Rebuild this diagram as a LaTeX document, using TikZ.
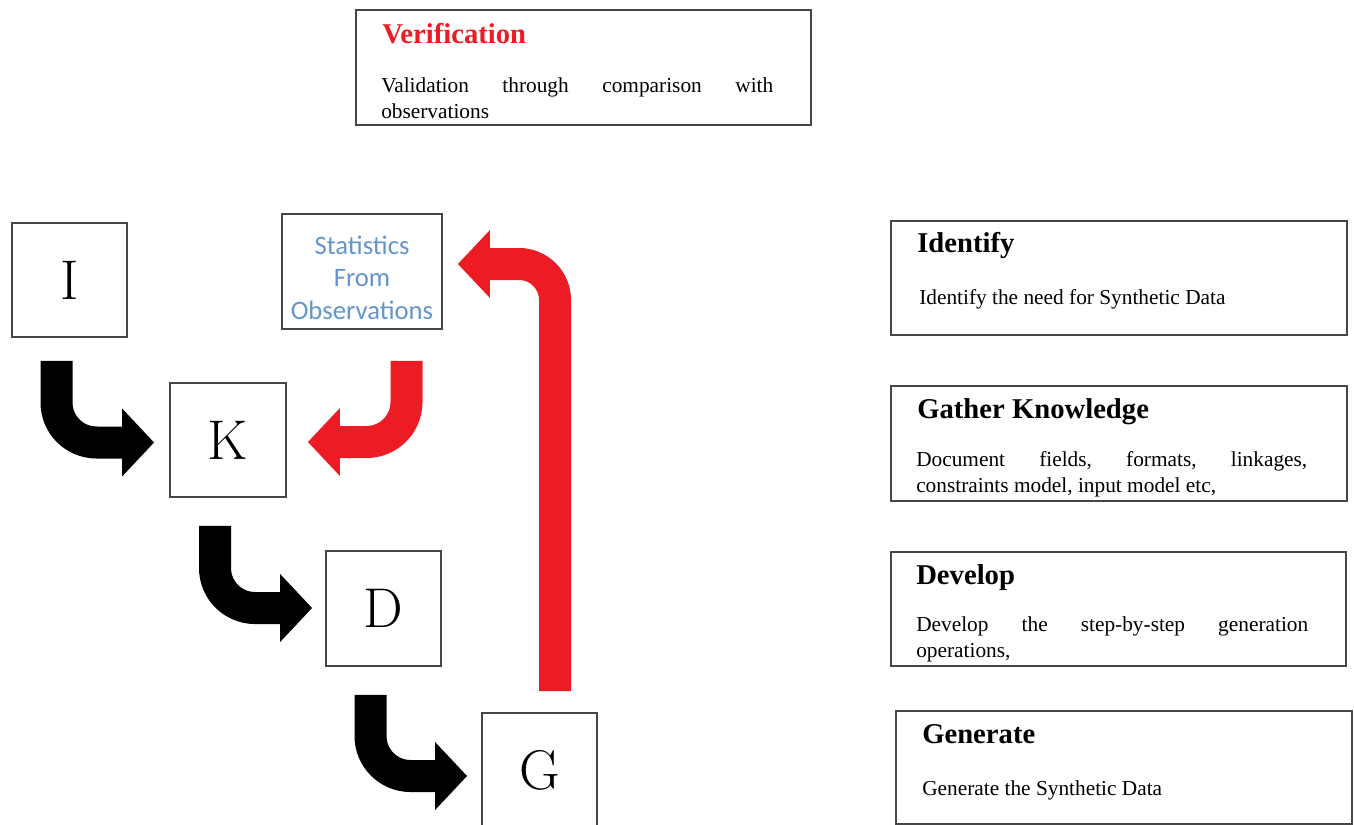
\documentclass[tikz,border=0pt]{standalone}
\usepackage{fontspec}
\setmainfont{Liberation Serif}
\newfontfamily\calfont{Carlito}
\newfontfamily\lmfont{Latin Modern Roman}
\usetikzlibrary{arrows.meta,calc}
\definecolor{arrowred}{RGB}{237,28,36}
\definecolor{statblue}{RGB}{100,150,205}
\definecolor{boxgray}{RGB}{70,70,70}
\begin{document}
\begin{tikzpicture}[x=0.75pt,y=-0.75pt,
  box/.style={draw=boxgray, line width=1.3pt, fill=white, inner sep=0pt},
  letter/.style={font=\lmfont\fontsize{42}{42}\selectfont},
  ttl/.style={anchor=base west, inner sep=0pt, font=\bfseries\fontsize{21.5}{25}\selectfont},
  bodytxt/.style={anchor=base west, inner sep=0pt, font=\fontsize{16}{19.5}\selectfont, align=justify},
  bendarrow/.style={line width=24pt, rounded corners=30pt, -{Triangle[length=24pt,width=49.5pt]}},
]
\useasboundingbox (0,0) rectangle (1354,825);

% left letter boxes
\node[box, letter, minimum width=86.25pt, minimum height=85.5pt] (I) at (69.5,280) {I};
\node[box, letter, minimum width=87pt, minimum height=85.5pt] (K) at (228,440) {K};
\node[box, letter, minimum width=86.25pt, minimum height=86.25pt] (D) at (383.5,608.5) {D};
\node[box, letter, minimum width=86.25pt, minimum height=86.25pt] (G) at (539.5,770.5) {G};

% statistics box
\node[box, minimum width=120pt, minimum height=86.25pt] (S) at (362,271.5) {};
\node[align=center, text=statblue, inner sep=0pt, font=\calfont\fontsize{20}{24.4}\selectfont] (St) at (362,277.5) {Statistics\\From\\Observations};

% verification box
\node[box, minimum width=341.25pt, minimum height=86.25pt] (V) at (583.5,67.5) {};
\node[ttl, text=arrowred] (Vt) at (382,43) {Verification};
\node[bodytxt, text width=294pt] (Vb) at (381,92) {Validation\hfill through\hfill comparison\hfill with\\observations};

% right boxes
\node[box, minimum width=342pt, minimum height=85.5pt] (ID) at (1119,278) {};
\node[ttl] (IDt) at (917,252) {Identify};
\node[bodytxt] (IDb) at (919,304) {Identify the need for Synthetic Data};

\node[box, minimum width=342pt, minimum height=86.25pt] (GK) at (1119,443.5) {};
\node[ttl] (GKt) at (917,418) {Gather Knowledge};
\node[bodytxt, text width=293.25pt] (GKb) at (916,466) {Document\hfill fields,\hfill formats,\hfill linkages,\\constraints model, input model etc,};

\node[box, minimum width=341.25pt, minimum height=85.5pt] (DV) at (1118.5,609) {};
\node[ttl] (DVt) at (916,584) {Develop};
\node[bodytxt, text width=294pt] (DVb) at (916,631) {Develop\hfill the\hfill step-by-step\hfill generation\\operations,};

\node[box, minimum width=342pt, minimum height=84.75pt] (GN) at (1124,767.5) {};
\node[ttl] (GNt) at (922,743) {Generate};
\node[bodytxt] (GNb) at (922,795) {Generate the Synthetic Data};

% bent arrows
\draw[bendarrow, black] ($(I.south)+(-13,23)$) |- ($(K.west)+(-15,2.5)$);
\draw[bendarrow, black] ($(K.south)+(-13,28)$) |- ($(D.west)+(-13,-0.5)$);
\draw[bendarrow, black] ($(D.south)+(-13,28)$) |- ($(G.west)+(-14,5.5)$);
\draw[bendarrow, arrowred] ($(S.south)+(44.5,31)$) |- ($(K.east)+(21,2)$);
\draw[bendarrow, arrowred, rounded corners=27pt] ($(G.north)+(15.5,-21)$) |- ($(S.east)+(15,-7.5)$);
\end{tikzpicture}
\end{document}
